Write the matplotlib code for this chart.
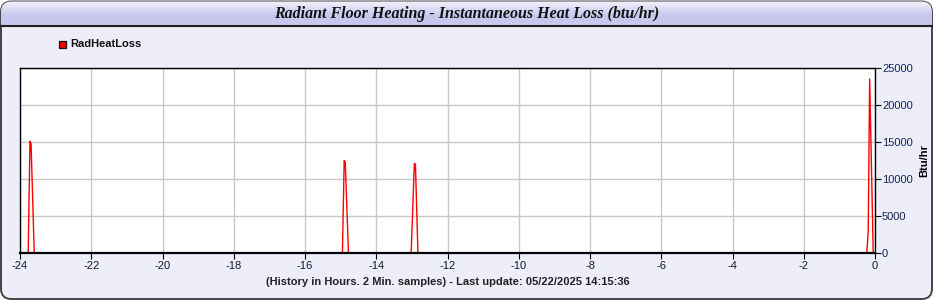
import numpy as np
import matplotlib
matplotlib.use("Agg")
import matplotlib.pyplot as plt
from matplotlib.patches import FancyBboxPatch
from matplotlib.colors import LinearSegmentedColormap

plt.rcParams['axes.unicode_minus'] = False
plt.rcParams['font.family'] = ['Liberation Sans', 'DejaVu Sans']

# Sample points (hours before now) and heat loss values (btu/hr)
hours = [-24.0, -23.77, -23.72, -23.69, -23.60, -23.55,
         -14.95, -14.90, -14.87, -14.78,
         -13.02, -12.93, -12.90, -12.83,
         -0.23, -0.19, -0.15, -0.05, 0.0]
heat_loss = [0, 0, 15100, 14800, 0, 0,
             0, 12500, 12300, 0,
             0, 12100, 12000, 0,
             0, 3000, 23500, 0, 0]

series_name = "RadHeatLoss"
title = "Radiant Floor Heating - Instantaneous Heat Loss (btu/hr)"
xlabel = "(History in Hours. 2 Min. samples) - Last update: 05/22/2025 14:15:36"
ylabel = "Btu/hr"
xticks = list(range(-24, 1, 2))
yticks = [0, 5000, 10000, 15000, 20000, 25000]

bg = "#eeeefb"
navy = "#14245a"
W, H = 934, 300

fig = plt.figure(figsize=(9.34, 3.0), dpi=100)
fig.patch.set_facecolor("white")

# rounded frame
frame = FancyBboxPatch((1 / W, 1 / H), 1 - 3 / W, 1 - 2.5 / H, boxstyle="round,pad=0,rounding_size=0.011",
                       transform=fig.transFigure, facecolor=bg, edgecolor="#444444", lw=1.4,
                       mutation_aspect=W / H, zorder=-10)
fig.patches.append(frame)

# title bar with gradient, clipped to the rounded frame
tax = fig.add_axes([0, 1 - 25 / H, 1, 25 / H])
tax.set_zorder(-5)
grad = np.linspace(0, 1, 60).reshape(-1, 1)
cmap = LinearSegmentedColormap.from_list("g", ["#f6f6fd", "#dcdcf6", "#c6c6ee", "#cacaf0"])
im = tax.imshow(grad, aspect="auto", cmap=cmap, extent=[0, 1, 0, 1])
im.set_clip_path(frame)
tax.set_axis_off()
fig.add_artist(plt.Line2D([1 / W, 1 - 2 / W], [1 - 25.5 / H, 1 - 25.5 / H], transform=fig.transFigure,
                          color="#222222", lw=1.5))
fig.text(0.5, 1 - 13.5 / H, title, ha="center", va="center", fontsize=11.5, fontweight="bold",
         fontstyle="italic", family="Liberation Serif", color="#111111")

ax = fig.add_axes([20 / W, 1 - 253 / H, 855 / W, 185 / H])
ax.set_facecolor("white")
ax.plot(hours, heat_loss, color="#ff0000", lw=1.0, label=series_name, zorder=1.5)
ax.set_xlim(-24, 0)
ax.set_ylim(0, 25000)
ax.set_xticks(xticks)
ax.set_yticks(yticks)
ax.grid(True, color="#c8c8c8", lw=1, zorder=0)
ax.set_axisbelow(True)
ax.yaxis.tick_right()
ax.yaxis.set_label_position("right")
ax.tick_params(axis="y", labelsize=8, colors="black", labelcolor=navy, length=4, pad=1)
ax.tick_params(axis="x", labelsize=8, colors="black", labelcolor="#101830", length=4, pad=2)
for s in ax.spines.values():
    s.set_color("black")
    s.set_linewidth(1)
ax.spines["bottom"].set_linewidth(1.6)
ax.set_ylabel(ylabel, fontsize=8, fontweight="bold", labelpad=5)
ax.set_xlabel(xlabel, fontsize=8, fontweight="bold", color="#222222", labelpad=4)

# legend
fig.patches.append(plt.Rectangle((58.5 / W, 1 - 47.5 / H), 7 / W, 7 / H, transform=fig.transFigure,
                                 facecolor="#ff0000", edgecolor="#111111", lw=0.9))
fig.text(70 / W, 1 - 44 / H, series_name, fontsize=8, fontweight="bold", va="center",
         color="#111111")

fig.savefig("out.png", dpi=100, facecolor=fig.get_facecolor())
